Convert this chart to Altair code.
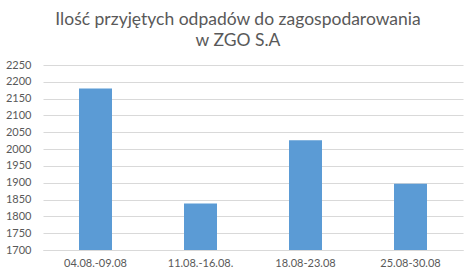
import altair as alt
import pandas as pd

# Weekly quantities of waste received
weeks = ["04.08.-09.08", "11.08.-16.08.", "18.08-23.08", "25.08-30.08"]
amounts = [2180, 1838, 2026, 1897]
y_ticks = list(range(1700, 2251, 50))

df = pd.DataFrame({"week": weeks, "amount": amounts})

FONT = "Lato"
GREY = "#595959"

chart = (
    alt.Chart(df)
    .mark_bar(size=33, color="#5B9BD5", clip=True)
    .encode(
        x=alt.X(
            "week:N",
            sort=weeks,
            title=None,
            scale=alt.Scale(paddingInner=0, paddingOuter=0),
            axis=alt.Axis(
                labelAngle=0,
                ticks=False,
                domain=True,
                domainColor="#D9D9D9",
                labelFont=FONT,
                labelFontSize=11,
                labelColor=GREY,
                labelPadding=7,
                grid=False,
            ),
        ),
        y=alt.Y(
            "amount:Q",
            title=None,
            scale=alt.Scale(domain=[1700, 2250], nice=False, zero=False),
            axis=alt.Axis(
                values=y_ticks,
                format="d",
                ticks=False,
                domain=False,
                gridColor="#D9D9D9",
                gridWidth=1,
                labelFont=FONT,
                labelFontSize=11,
                labelColor=GREY,
                labelPadding=12,
            ),
        ),
    )
    .properties(
        width=420,
        height=185,
        autosize=alt.AutoSizeParams(type="none"),
        padding={"left": 43, "top": 65, "right": 13, "bottom": 24},
        title=alt.TitleParams(
            ["Ilość przyjętych odpadów do zagospodarowania", "w ZGO S.A"],
            font=FONT,
            fontSize=17.5,
            fontWeight="normal",
            color=GREY,
            anchor="middle",
            dx=-15,
            offset=10,
            lineHeight=21,
        ),
    )
    .configure_view(stroke=None)
)

chart.save("out.html", embed_options={"renderer": "svg", "actions": False})
